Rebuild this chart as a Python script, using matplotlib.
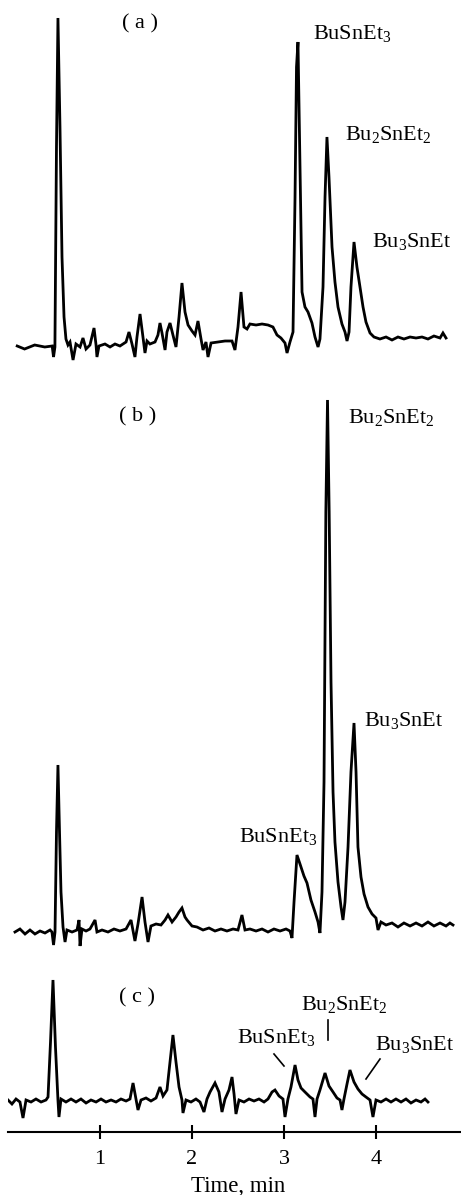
"""
Chromatograms (a)-(c) of butyltin ethyl derivatives, stacked on one time axis.
"""

import matplotlib.pyplot as plt

# ============================================================================
# Data (time in min, detector signal in arbitrary units above baseline)
# ============================================================================

time_a = [0.10, 0.18, 0.29, 0.40, 0.48, 0.495, 0.51, 0.527, 0.543, 0.565,
          0.587, 0.609, 0.63, 0.652, 0.674, 0.707, 0.739, 0.783, 0.815, 0.848,
          0.891, 0.935, 0.957, 0.967, 0.989, 1.054, 1.109, 1.163, 1.217, 1.283,
          1.315, 1.348, 1.380, 1.402, 1.435, 1.467, 1.489, 1.511, 1.543, 1.598,
          1.630, 1.652, 1.674, 1.707, 1.728, 1.761, 1.793, 1.826, 1.859, 1.891,
          1.924, 1.957, 2.0, 2.033, 2.065, 2.098, 2.12, 2.152, 2.174, 2.207,
          2.283, 2.359, 2.435, 2.467, 2.5, 2.533, 2.565, 2.598, 2.63, 2.696,
          2.761, 2.826, 2.880, 2.924, 2.967, 3.011, 3.033, 3.065, 3.098, 3.12,
          3.136, 3.152, 3.174, 3.196, 3.228, 3.261, 3.304, 3.337, 3.370, 3.391,
          3.424, 3.446, 3.467, 3.489, 3.522, 3.554, 3.587, 3.630, 3.663, 3.685,
          3.707, 3.728, 3.761, 3.793, 3.826, 3.859, 3.891, 3.935, 3.978, 4.043,
          4.109, 4.174, 4.239, 4.304, 4.37, 4.435, 4.5, 4.565, 4.63, 4.696,
          4.728, 4.761]
signal_a = [1, -2, 2, 0, 1, -10, 0, 200, 329, 220,
            90, 30, 8, 2, 5, -13, 3, 0, 9, -2,
            2, 19, 2, -10, 1, 3, 0, 3, 1, 5,
            15, 3, -10, 10, 33, 10, -6, 6, 3, 5,
            12, 24, 14, -3, 15, 24, 12, 0, 30, 64,
            35, 22, 16, 12, 26, 8, -3, 5, -10, 4,
            5, 6, 6, -3, 20, 55, 20, 18, 23, 22,
            23, 22, 20, 12, 9, 4, -6, 5, 15, 150,
            280, 305, 180, 55, 40, 35, 24, 10, 0, 8,
            60, 150, 210, 170, 100, 65, 40, 23, 15, 6,
            15, 60, 105, 80, 60, 40, 25, 14, 10, 8,
            10, 7, 10, 8, 10, 9, 10, 8, 11, 9,
            14, 9]

time_b = [0.076, 0.13, 0.185, 0.239, 0.293, 0.348, 0.402, 0.457, 0.478, 0.495,
          0.511, 0.527, 0.543, 0.560, 0.576, 0.598, 0.620, 0.641, 0.696, 0.75,
          0.772, 0.783, 0.804, 0.848, 0.891, 0.946, 0.967, 1.022, 1.087, 1.152,
          1.217, 1.283, 1.337, 1.380, 1.413, 1.457, 1.489, 1.522, 1.554, 1.609,
          1.663, 1.707, 1.739, 1.783, 1.826, 1.859, 1.891, 1.924, 1.946, 2.0,
          2.054, 2.12, 2.185, 2.25, 2.315, 2.38, 2.446, 2.5, 2.543, 2.576,
          2.63, 2.696, 2.761, 2.826, 2.891, 2.957, 3.022, 3.065, 3.087, 3.109,
          3.141, 3.174, 3.217, 3.25, 3.293, 3.337, 3.37, 3.391, 3.413, 3.435,
          3.455, 3.473, 3.491, 3.511, 3.533, 3.554, 3.587, 3.62, 3.641, 3.663,
          3.696, 3.728, 3.761, 3.783, 3.804, 3.837, 3.870, 3.913, 3.957, 4.0,
          4.022, 4.054, 4.109, 4.174, 4.239, 4.304, 4.37, 4.435, 4.5, 4.565,
          4.63, 4.696, 4.761, 4.804, 4.837]
signal_b = [0, 3, -2, 2, -2, 1, -1, 2, 0, -13,
            0, 100, 167, 100, 40, 5, -10, 2, 0, 2,
            12, -14, 3, 1, 3, 12, 0, 2, 0, 3,
            1, 3, 12, -9, 8, 35, 10, -10, 6, 8,
            7, 12, 17, 10, 15, 20, 24, 15, 12, 6,
            5, 2, 4, 1, 3, 1, 3, 2, 17, 2,
            3, 1, 3, 0, 3, 1, 3, 1, -6, 30,
            77, 68, 56, 49, 32, 20, 10, -1, 40, 150,
            420, 532, 420, 250, 140, 90, 50, 25, 12, 30,
            85, 160, 209, 160, 85, 55, 38, 25, 18, 14,
            2, 10, 7, 9, 5, 9, 6, 9, 6, 10,
            6, 9, 6, 9, 7]

time_c = [0.0, 0.043, 0.087, 0.13, 0.163, 0.196, 0.25, 0.304, 0.359, 0.413,
          0.435, 0.462, 0.489, 0.516, 0.543, 0.554, 0.576, 0.63, 0.685, 0.739,
          0.793, 0.848, 0.902, 0.957, 1.011, 1.065, 1.12, 1.174, 1.228, 1.283,
          1.326, 1.359, 1.391, 1.413, 1.446, 1.5, 1.554, 1.609, 1.652, 1.685,
          1.728, 1.761, 1.793, 1.826, 1.859, 1.891, 1.902, 1.935, 1.989, 2.043,
          2.087, 2.13, 2.163, 2.196, 2.25, 2.293, 2.326, 2.359, 2.402, 2.435,
          2.457, 2.478, 2.511, 2.565, 2.62, 2.674, 2.728, 2.783, 2.826, 2.87,
          2.902, 2.946, 2.989, 3.011, 3.043, 3.076, 3.12, 3.152, 3.185, 3.228,
          3.283, 3.315, 3.337, 3.359, 3.391, 3.446, 3.489, 3.533, 3.576, 3.609,
          3.63, 3.652, 3.685, 3.717, 3.761, 3.804, 3.848, 3.891, 3.935, 3.967,
          4.0, 4.054, 4.109, 4.163, 4.217, 4.272, 4.326, 4.38, 4.435, 4.489,
          4.533, 4.565]
signal_c = [2, -2, 3, 0, -16, 2, 0, 3, 0, 2,
            5, 60, 122, 55, 2, -15, 3, 0, 3, 0,
            3, -1, 2, 0, 3, 0, 2, 0, 3, 1,
            3, 19, 3, -8, 2, 4, 1, 4, 15, 6,
            12, 40, 67, 40, 15, 2, -11, 2, 0, 3,
            0, -10, 3, 10, 19, 10, -10, 3, 12, 25,
            8, -12, 2, 0, 3, 1, 3, 0, 3, 10,
            12, 6, 3, -15, 3, 15, 37, 22, 14, 10,
            5, 3, -15, 3, 12, 29, 16, 10, 4, 2,
            -8, 3, 18, 32, 20, 13, 8, 5, 2, -15,
            2, 0, 3, 0, 3, 0, 3, -1, 2, 0,
            3, 0]

tick_values = [1, 2, 3, 4]
tick_labels = ["1", "2", "3", "4"]

# ============================================================================
# Layout (axis units: 1 unit ~ 1 px vertically)
# ============================================================================

OFFSET_A = 785
OFFSET_B = 200
OFFSET_C = 30

plt.rcParams.update(
    {
        "font.family": ["Liberation Serif", "DejaVu Serif"],
        "mathtext.fontset": "custom",
        "mathtext.rm": "Liberation Serif",
        "mathtext.it": "Liberation Serif:italic",
        "font.size": 16,
    }
)

fig = plt.figure(figsize=(4.61, 11.95), dpi=100)
ax = fig.add_axes([8 / 461, 63 / 1195, 453 / 461, 1132 / 1195])

line_kw = dict(color="black", linewidth=2.0, solid_joinstyle="miter")

ax.plot(time_a, [s + OFFSET_A for s in signal_a], **line_kw)
ax.plot(time_b, [s + OFFSET_B for s in signal_b], **line_kw)
ax.plot(time_c, [s + OFFSET_C for s in signal_c], **line_kw)

ax.set_xlim(0, 4.924)
ax.set_ylim(0, 1132)

# axis styling: only the bottom time axis is visible
for side in ("top", "right", "left"):
    ax.spines[side].set_visible(False)
ax.spines["bottom"].set_linewidth(1.5)
ax.set_yticks([])
ax.set_xticks(tick_values)
ax.set_xticklabels(tick_labels)
ax.tick_params(axis="x", direction="inout", length=10, width=1.5, pad=8,
               labelsize=16)
ax.set_xlabel("Time, min", fontsize=16.5)
ax.xaxis.set_label_coords(230 / 453, -0.039)


def label(t, y, text):
    ax.text(t, y, text, ha="left", va="baseline", fontsize=16)


def px(x_pix, y_pix):
    return (x_pix - 8) / 92, 1132 - y_pix


# panel (a)
label(*px(122, 28), "( a )")
label(*px(313, 39), r"BuSnEt$_3$")
label(*px(345, 140), r"Bu$_2$SnEt$_2$")
label(*px(372, 247), r"Bu$_3$SnEt")

# panel (b)
label(*px(119, 421), "( b )")
label(*px(348, 423), r"Bu$_2$SnEt$_2$")
label(*px(364, 726), r"Bu$_3$SnEt")
label(*px(239, 842), r"BuSnEt$_3$")

# panel (c)
label(*px(119, 1002), "( c )")
label(*px(301, 1010), r"Bu$_2$SnEt$_2$")
label(*px(237, 1043), r"BuSnEt$_3$")
label(*px(375, 1050), r"Bu$_3$SnEt")

for (x0, y0), (x1, y1) in [
    ((328, 1020), (328, 1040)),
    ((274, 1054), (284, 1066)),
    ((380, 1059), (366, 1079)),
]:
    p0, p1 = px(x0, y0), px(x1, y1)
    ax.plot([p0[0], p1[0]], [p0[1], p1[1]], color="black", linewidth=1.2)

fig.savefig("out.png", dpi=100)
plt.close(fig)
